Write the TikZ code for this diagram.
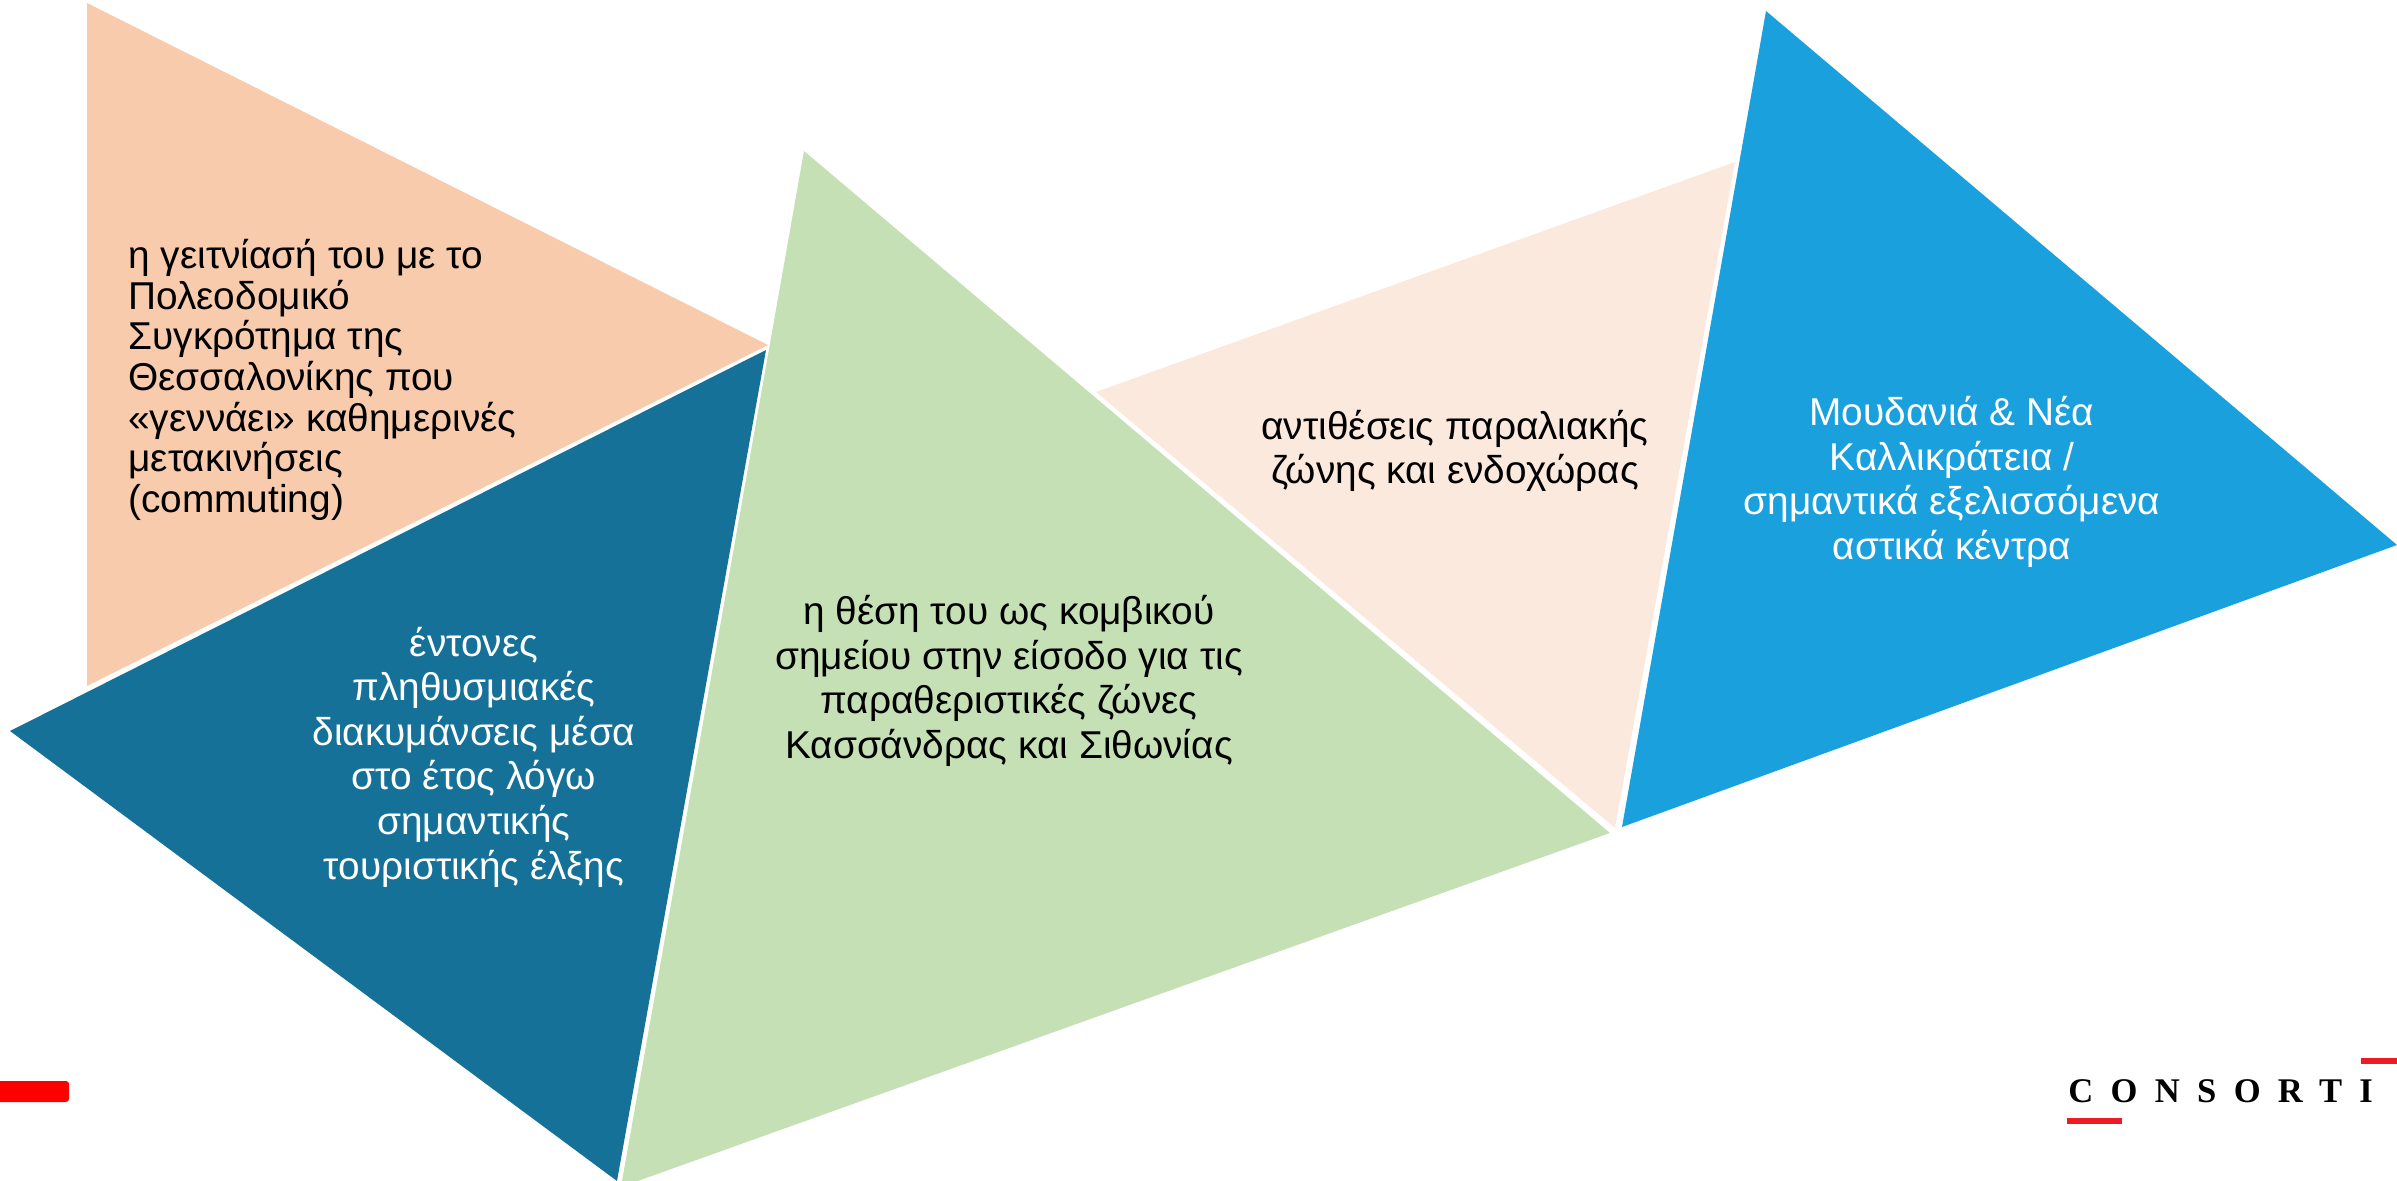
\documentclass[tikz,border=0pt]{standalone}
\usepackage{fontspec}
\setmainfont{Liberation Sans}
\newfontfamily\logofont[LetterSpace=50]{Liberation Serif}
\definecolor{peach}{HTML}{F8CBAD}
\definecolor{teal}{HTML}{157198}
\definecolor{leaf}{HTML}{C5E0B4}
\definecolor{pale}{HTML}{FCE9DD}
\definecolor{sky}{HTML}{1AA0DC}
\definecolor{logored}{HTML}{ED1C24}
\tikzset{
  lbl/.style={inner sep=0pt,font=\fontsize{19.4}{22.3}\selectfont,align=center,text=black},
  lblw/.style={lbl,text=white},
  lbll/.style={inner sep=0pt,font=\fontsize{19.4}{20.3}\selectfont,align=left,anchor=north west,text=black}
}
\begin{document}
\begin{tikzpicture}[x=0.5pt,y=-0.5pt]
\useasboundingbox (0,0) rectangle (2397,1181);
\clip (0,0) rectangle (2397,1181);
\fill[peach] (87,3) -- (768,345) -- (87,686) -- cycle;
\fill[teal] (10,731) -- (766,350) -- (617,1181) -- cycle;
\fill[leaf] (804,151) -- (1610,833) -- (621,1187) -- cycle;
\fill[pale] (1096,392) -- (1735,162) -- (1615,828) -- cycle;
\fill[sky] (1766,11) -- (2397,545) -- (1622,827) -- cycle;
\fill[red,rounded corners=1.5pt] (-10,1081) rectangle (69,1102);
\fill[logored] (2067,1118) rectangle (2122,1124);
\fill[logored] (2361,1058) rectangle (2397,1064);
\node[lbll] (t1) at (128,239) {η γειτνίασή του με το\\Πολεοδομικό\\Συγκρότημα της\\Θεσσαλονίκης που\\«γεννάει» καθημερινές\\μετακινήσεις\\(commuting)};
\node[lblw] (t2) at (474,757) {έντονες\\πληθυσμιακές\\διακυμάνσεις μέσα\\στο έτος λόγω\\σημαντικής\\τουριστικής έλξης};
\node[lbl] (t3) at (1009,681) {η θέση του ως κομβικού\\σημείου στην είσοδο για τις\\παραθεριστικές ζώνες\\Κασσάνδρας και Σιθωνίας};
\node[lbl] (t4) at (1455,451) {αντιθέσεις παραλιακής\\ζώνης και ενδοχώρας};
\node[lblw] (t5) at (1952,482) {Μουδανιά \& Νέα\\Καλλικράτεια /\\σημαντικά εξελισσόμενα\\αστικά κέντρα};
\node[inner sep=0pt,anchor=base west,font=\logofont\fontsize{17.3}{20}\selectfont] (logo) at (2068,1102) {\textbf{CONSORTI}};
\end{tikzpicture}
\end{document}
